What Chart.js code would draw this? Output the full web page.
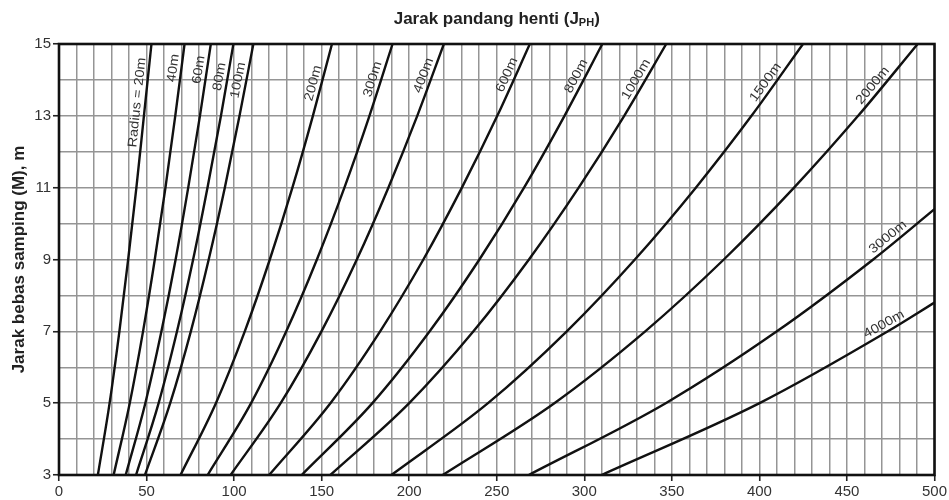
<!DOCTYPE html>
<html>
<head>
<meta charset="utf-8">
<script src="https://cdn.jsdelivr.net/npm/chart.js@4.4.1/dist/chart.umd.min.js"></script>
<style>
  html, body { margin: 0; padding: 0; background: #fff; }
  #wrap { width: 949px; height: 500px; position: relative; }
</style>
</head>
<body>
<div id="wrap"><canvas id="chart"></canvas></div>
<script>
// Lateral clearance levels M (m) at which each curve is sampled
const sightM = [3, 5, 7, 9, 11, 13, 15];

// Stopping sight distance J_PH (m) for each curve radius, at the levels above
const r20   = [22.2, 28.9, 34.5, 39.5, 44.2, 48.5, 52.8];
const r40   = [31.2, 40.4, 48.0, 54.7, 60.8, 66.4, 71.7];
const r60   = [38.1, 49.3, 58.5, 66.6, 73.8, 80.5, 86.7];
const r80   = [44.0, 56.9, 67.4, 76.6, 84.8, 92.5, 99.6];
const r100  = [49.1, 63.5, 75.3, 85.5, 94.7, 103.1, 111.0];
const r200  = [69.4, 89.6, 106.1, 120.4, 133.3, 145.0, 155.9];
const r300  = [84.9, 109.7, 129.8, 147.3, 163.0, 177.3, 190.5];
const r400  = [98.0, 126.6, 149.9, 170.1, 188.1, 204.6, 219.8];
const r600  = [120.0, 155.0, 183.4, 208.1, 230.1, 250.3, 268.9];
const r800  = [138.6, 179.0, 211.7, 240.1, 265.6, 288.7, 310.3];
const r1000 = [155.0, 200.0, 236.7, 268.4, 296.8, 322.8, 346.8];
const r1500 = [189.8, 245.0, 290.0, 328.9, 363.7, 395.5, 424.9];
const r2000 = [219.1, 282.9, 334.8, 379.7, 419.8, 456.4, 490.4];

// The two flattest curves leave through the right edge (J_PH = 500 m)
const r3000 = [268.3, 346.5, 410.0, 465.0, 500];
const m3000 = [3, 5, 7, 9, 10.4];
const r4000 = [309.9, 400.1, 473.4, 500];
const m4000 = [3, 5, 7, 7.8];

const radiusLabels = ['Radius = 20m', '40m', '60m', '80m', '100m', '200m', '300m', '400m',
                      '600m', '800m', '1000m', '1500m', '2000m', '3000m', '4000m'];

const jphSeries = [r20, r40, r60, r80, r100, r200, r300, r400, r600, r800, r1000, r1500, r2000, r3000, r4000];
const mSeries = jphSeries.map((s, i) => i < 13 ? sightM : (i === 13 ? m3000 : m4000));

// Where each radius label sits along its curve (value of M)
const labelAnchorM = [13.35, 14.3, 14.25, 14.05, 13.95, 13.85, 13.95, 14.05, 14.05, 14.0, 13.9, 13.8, 13.7, 9.45, 7.0];

Chart.defaults.font.family = "'Liberation Sans', Arial, sans-serif";

const datasets = jphSeries.map((xs, i) => ({
  label: radiusLabels[i],
  data: xs.map((x, j) => ({ x: x, y: mSeries[i][j] })),
  borderColor: '#111',
  borderWidth: 2.4,
  pointRadius: 0,
  fill: false,
  cubicInterpolationMode: 'monotone'
}));

// Labels written along each curve, just above it
const curveLabels = {
  id: 'curveLabels',
  afterDatasetsDraw(chart, args, opts) {
    const ctx = chart.ctx;
    const xs = chart.scales.x, ys = chart.scales.y;
    chart.data.datasets.forEach((ds, i) => {
      const m = opts.anchors[i];
      const pts = ds.data;
      let k = 0;
      while (k < pts.length - 2 && pts[k + 1].y < m) k++;
      const a = pts[k], b = pts[k + 1];
      const t = (m - a.y) / (b.y - a.y);
      const xv = a.x + t * (b.x - a.x);
      const px = xs.getPixelForValue(xv), py = ys.getPixelForValue(m);
      const ang = Math.atan2(ys.getPixelForValue(b.y) - ys.getPixelForValue(a.y),
                             xs.getPixelForValue(b.x) - xs.getPixelForValue(a.x));
      ctx.save();
      ctx.translate(px, py);
      ctx.rotate(ang);
      ctx.scale(opts.stretch, 1);
      ctx.font = opts.font;
      ctx.fillStyle = opts.color;
      ctx.textAlign = 'center';
      ctx.textBaseline = 'bottom';
      ctx.fillText(ds.label, 0, -opts.gap);
      ctx.restore();
    });
  }
};

// Heavy frame round the plot and the heading with its subscript
const frameAndHeading = {
  id: 'frameAndHeading',
  afterDraw(chart) {
    const ctx = chart.ctx, ca = chart.chartArea;
    ctx.save();
    ctx.strokeStyle = '#111';
    ctx.lineWidth = 2.6;
    ctx.strokeRect(ca.left, ca.top, ca.right - ca.left, ca.bottom - ca.top);

    const main = 'Jarak pandang henti (J', sub = 'PH', tail = ')';
    const fMain = "bold 17px 'Liberation Sans', Arial, sans-serif";
    const fSub = "bold 11px 'Liberation Sans', Arial, sans-serif";
    ctx.font = fMain; const w1 = ctx.measureText(main).width, w3 = ctx.measureText(tail).width;
    ctx.font = fSub; const w2 = ctx.measureText(sub).width;
    let x = (ca.left + ca.right) / 2 - (w1 + w2 + w3) / 2;
    const base = 24;
    ctx.fillStyle = '#222';
    ctx.textAlign = 'left';
    ctx.textBaseline = 'alphabetic';
    ctx.font = fMain; ctx.fillText(main, x, base); x += w1;
    ctx.font = fSub; ctx.fillText(sub, x, base + 2); x += w2;
    ctx.font = fMain; ctx.fillText(tail, x, base);
    ctx.restore();
  }
};

new Chart(document.getElementById('chart'), {
  type: 'line',
  data: { datasets: datasets },
  plugins: [curveLabels, frameAndHeading],
  options: {
    responsive: true,
    maintainAspectRatio: false,
    animation: false,
    devicePixelRatio: 1,
    layout: { padding: { top: 44, right: 12, left: 0, bottom: 0 } },
    plugins: {
      legend: { display: false },
      title: { display: false },
      tooltip: { enabled: false },
      curveLabels: {
        anchors: labelAnchorM,
        font: "13px 'Liberation Sans', Arial, sans-serif",
        color: '#333',
        stretch: 1.12,
        gap: 1.5
      }
    },
    scales: {
      x: {
        type: 'linear',
        min: 0, max: 500,
        afterFit(s) { s.height = 25; },
        border: { display: false },
        grid: {
          color: '#959595',
          lineWidth: 1.5,
          tickLength: 6,
          tickWidth: 1.6,
          tickColor: c => (c.tick && c.tick.value % 50 === 0) ? '#222' : 'rgba(0,0,0,0)'
        },
        ticks: {
          stepSize: 10,
          autoSkip: false,
          maxRotation: 0,
          padding: 2,
          color: '#333',
          font: { size: 15 },
          callback: v => (v % 50 === 0 ? v : '')
        }
      },
      y: {
        type: 'linear',
        min: 3, max: 15,
        afterFit(s) { s.width = 59; },
        border: { display: false },
        grid: {
          color: '#959595',
          lineWidth: 1.5,
          tickLength: 6,
          tickWidth: 1.6,
          tickColor: c => (c.tick && c.tick.value % 2 === 1) ? '#222' : 'rgba(0,0,0,0)'
        },
        ticks: {
          stepSize: 1,
          autoSkip: false,
          padding: 2,
          color: '#333',
          font: { size: 15 },
          callback: v => (v % 2 === 1 ? v : '')
        },
        title: {
          display: true,
          text: 'Jarak bebas samping (M), m',
          color: '#222',
          font: { size: 17, weight: 'bold' },
          padding: { top: 9, bottom: 0 }
        }
      }
    }
  }
});
</script>
</body>
</html>
